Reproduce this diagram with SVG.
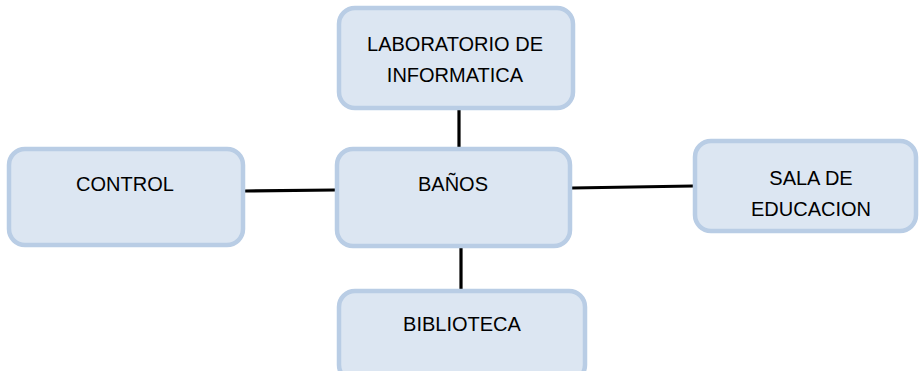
<svg xmlns="http://www.w3.org/2000/svg" width="919" height="371" viewBox="0 0 919 371">
<style>
.box{fill:#dce6f2;stroke:#b9cde5;stroke-width:4.5}
.lbl{font-family:"Liberation Sans",Arial,sans-serif;font-size:20px;fill:#000;text-anchor:middle}
.conn{stroke:#000;stroke-width:3.2;fill:none}
</style>
<rect width="919" height="371" fill="#fff"/>
<g id="connectors">
<line class="conn" x1="459" y1="110" x2="459" y2="147"/>
<line class="conn" x1="245" y1="191" x2="335" y2="190"/>
<line class="conn" x1="572" y1="188" x2="693" y2="186"/>
<line class="conn" x1="461" y1="248" x2="461" y2="289"/>
</g>
<g id="lab">
<rect class="box" x="339" y="8" width="234" height="100" rx="16"/>
<text class="lbl" x="455" y="51">LABORATORIO DE</text>
<text class="lbl" x="455" y="82">INFORMATICA</text>
</g>
<g id="control">
<rect class="box" x="9" y="149" width="234" height="96" rx="16"/>
<text class="lbl" x="125" y="191">CONTROL</text>
</g>
<g id="banos">
<rect class="box" x="337" y="149" width="233" height="97" rx="16"/>
<text class="lbl" x="453" y="191">BAÑOS</text>
</g>
<g id="sala">
<rect class="box" x="695" y="141" width="221" height="90" rx="16"/>
<text class="lbl" x="811" y="185">SALA DE</text>
<text class="lbl" x="811" y="216">EDUCACION</text>
</g>
<g id="biblioteca">
<rect class="box" x="339" y="291" width="246" height="90" rx="16"/>
<text class="lbl" x="462" y="331">BIBLIOTECA</text>
</g>
</svg>
